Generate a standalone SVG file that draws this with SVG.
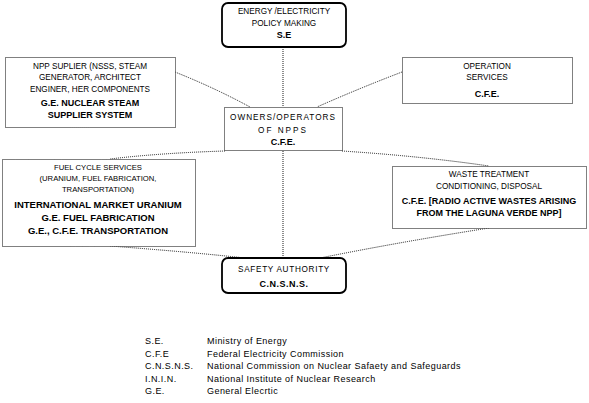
<svg xmlns="http://www.w3.org/2000/svg" width="589" height="403" viewBox="0 0 589 403">
<style>
text{font-family:"Liberation Sans",Arial,sans-serif;fill:#000;text-anchor:middle;font-size:8.2px}
.b{font-weight:bold;font-size:9px}
.bb{font-weight:bold;font-size:9.5px}
.s{font-size:7.7px}
.r{stroke:#000;stroke-width:1.8;fill:#fff}
.d{stroke:#000;stroke-width:1;stroke-dasharray:1 1;fill:#fff}
.c{stroke:#000;stroke-width:0.9;stroke-dasharray:1 1;fill:none}
.lg{text-anchor:start;font-size:9px;letter-spacing:0.45px}
</style>
<rect width="589" height="403" fill="#fff"/>
<g id="connectors">
<path class="c" d="M283,47 L283,107"/>
<path class="c" d="M175,72 Q215,88 250,107"/>
<path class="c" d="M402,72 Q360,88 317,107"/>
<path class="c" d="M283,151 L283,258"/>
<path class="c" d="M225,151 Q160,153 110,159"/>
<path class="c" d="M342,151 Q420,156 489,166"/>
<path class="c" d="M110,246 Q190,252 245,258"/>
<path class="c" d="M489,228 Q400,242 320,258"/>
</g>
<g id="policy">
<rect class="r" x="222" y="3" width="124" height="44" rx="6"/>
<text x="284" y="14">ENERGY /ELECTRICITY</text>
<text x="284" y="26">POLICY MAKING</text>
<text class="b" x="284" y="38">S.E</text>
</g>
<g id="supplier">
<rect class="d" x="5.5" y="57.5" width="170" height="70"/>
<text x="90" y="69">NPP SUPLIER (NSSS, STEAM</text>
<text x="90" y="80">GENERATOR, ARCHITECT</text>
<text x="90" y="92">ENGINER, HER COMPONENTS</text>
<text class="b" x="90" y="106">G.E. NUCLEAR STEAM</text>
<text class="b" x="90" y="118">SUPPLIER SYSTEM</text>
</g>
<g id="operation">
<rect class="d" x="402.5" y="57.5" width="170" height="46"/>
<text x="487" y="69">OPERATION</text>
<text x="487" y="80">SERVICES</text>
<text class="b" x="487" y="97">C.F.E.</text>
</g>
<g id="owners">
<rect class="d" x="224.5" y="107.5" width="118" height="43"/>
<text x="283" y="120" letter-spacing="1">OWNERS/OPERATORS</text>
<text x="283" y="133" letter-spacing="2">OF NPPS</text>
<text class="b" x="283" y="145">C.F.E.</text>
</g>
<g id="fuel">
<rect class="d" x="2.5" y="159.5" width="193" height="87"/>
<text class="s" x="98" y="170">FUEL CYCLE SERVICES</text>
<text class="s" x="98" y="181">(URANIUM, FUEL FABRICATION,</text>
<text class="s" x="98" y="192">TRANSPORTATION)</text>
<text class="bb" x="98" y="208">INTERNATIONAL MARKET URANIUM</text>
<text class="bb" x="98" y="221">G.E. FUEL FABRICATION</text>
<text class="bb" x="98" y="234">G.E., C.F.E. TRANSPORTATION</text>
</g>
<g id="waste">
<rect class="d" x="392.5" y="166.5" width="194" height="62"/>
<text x="489" y="177">WASTE TREATMENT</text>
<text x="489" y="189">CONDITIONING, DISPOSAL</text>
<text class="b" x="489" y="204">C.F.E. [RADIO ACTIVE WASTES ARISING</text>
<text class="b" x="489" y="216">FROM THE LAGUNA VERDE NPP]</text>
</g>
<g id="safety">
<rect class="r" x="222" y="258" width="124" height="35" rx="6"/>
<text x="284" y="272" letter-spacing="0.7">SAFETY AUTHORITY</text>
<text class="b" x="284" y="287" letter-spacing="0.5">C.N.S.N.S.</text>
</g>
<g id="legend">
<text class="lg" x="145" y="344">S.E.</text>
<text class="lg" x="207" y="344">Ministry of Energy</text>
<text class="lg" x="145" y="356.5">C.F.E</text>
<text class="lg" x="207" y="356.5">Federal Electricity Commission</text>
<text class="lg" x="145" y="369">C.N.S.N.S.</text>
<text class="lg" x="207" y="369">National Commission on Nuclear Safaety and Safeguards</text>
<text class="lg" x="145" y="381.5">I.N.I.N.</text>
<text class="lg" x="207" y="381.5">National Institute of Nuclear Research</text>
<text class="lg" x="145" y="394">G.E.</text>
<text class="lg" x="207" y="394">General Elecrtic</text>
</g>
</svg>
